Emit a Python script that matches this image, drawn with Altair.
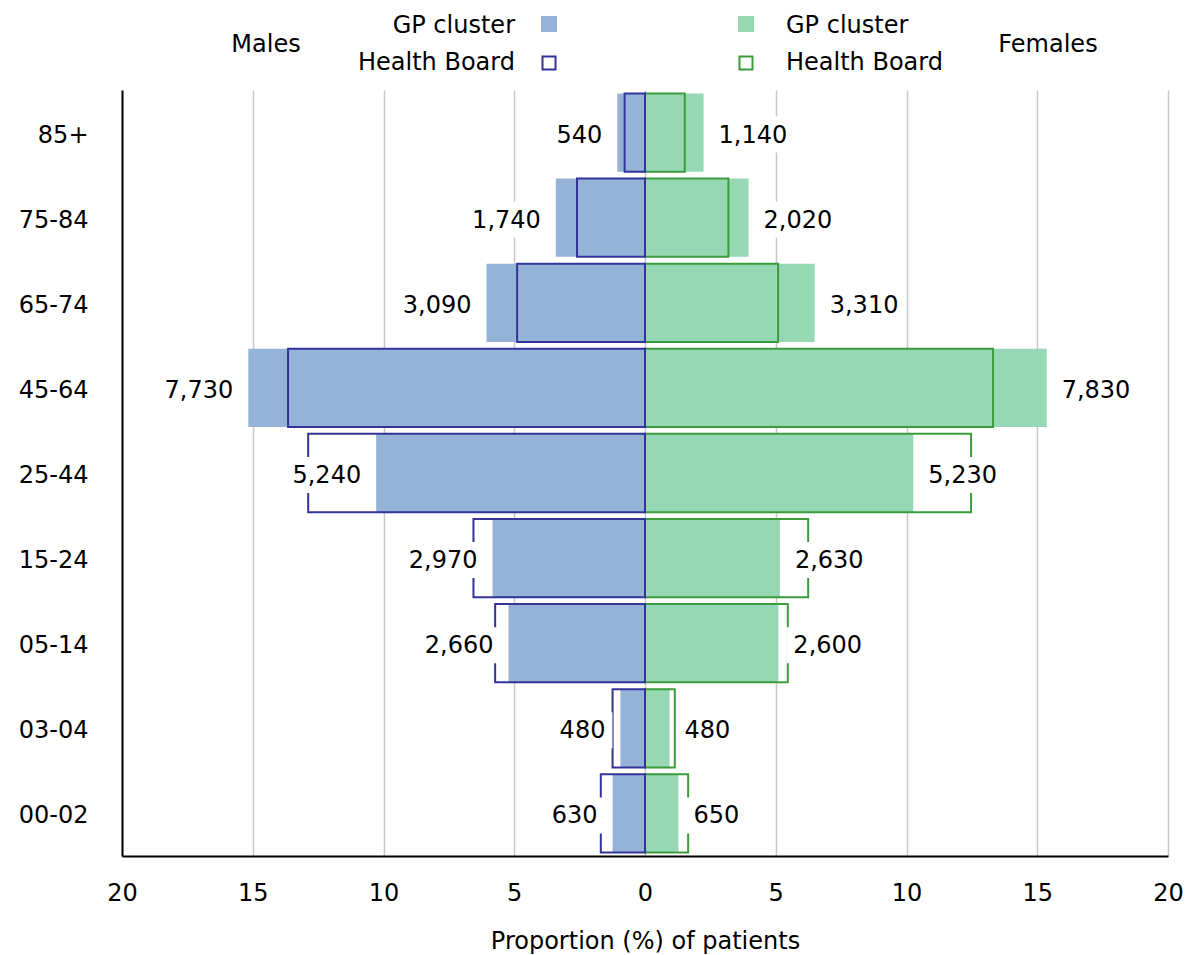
import altair as alt
import pandas as pd

# ---- data ----
age_groups = ["85+", "75-84", "65-74", "45-64", "25-44", "15-24", "05-14", "03-04", "00-02"]
male_gp = [1.06, 3.41, 6.06, 15.17, 10.28, 5.83, 5.22, 0.94, 1.24]
female_gp = [2.24, 3.96, 6.49, 15.36, 10.26, 5.16, 5.10, 0.94, 1.28]
male_hb = [0.78, 2.60, 4.89, 13.65, 12.88, 6.56, 5.73, 1.24, 1.69]
female_hb = [1.52, 3.19, 5.09, 13.31, 12.47, 6.24, 5.46, 1.14, 1.65]
male_n = [540, 1740, 3090, 7730, 5240, 2970, 2660, 480, 630]
female_n = [1140, 2020, 3310, 7830, 5230, 2630, 2600, 480, 650]
x_ticks = [-20, -15, -10, -5, 0, 5, 10, 15, 20]
legend_labels = ["GP cluster", "Health Board"]
side_labels = ["Males", "Females"]

rows = []
for i, a in enumerate(age_groups):
    rows.append(dict(age=a, sex="M", gp=-male_gp[i], hb=-male_hb[i], n=male_n[i]))
    rows.append(dict(age=a, sex="F", gp=female_gp[i], hb=female_hb[i], n=female_n[i]))
df = pd.DataFrame(rows)

FONT = "DejaVu Sans"
M_FILL = "#95b3d7"
M_LINE = "#33339a"
F_FILL = "#96d8b3"
F_LINE = "#3b9c3b"

xscale = alt.Scale(domain=[-20, 20], nice=False)
xaxis = alt.Axis(values=x_ticks, labelExpr="abs(datum.value)", title="Proportion (%) of patients",
                 labelFlush=False)
yenc = alt.Y("age:N", sort=age_groups,
             scale=alt.Scale(paddingInner=0.08, paddingOuter=0.04),
             axis=alt.Axis(title=None))


def X(field):
    return alt.X(field, type="quantitative", scale=xscale, axis=xaxis, stack=None)


base = alt.Chart(df)
IS_M = "datum.sex == 'M'"
IS_F = "datum.sex == 'F'"

gp_f = base.transform_filter(IS_F).mark_bar(color=F_FILL).encode(x=X("gp"), y=yenc)
gp_m = base.transform_filter(IS_M).mark_bar(color=M_FILL).encode(x=X("gp"), y=yenc)
hb_f = base.transform_filter(IS_F).mark_bar(filled=False, stroke=F_LINE, strokeWidth=2).encode(x=X("hb"), y=yenc)
hb_m = base.transform_filter(IS_M).mark_bar(filled=False, stroke=M_LINE, strokeWidth=2).encode(x=X("hb"), y=yenc)


# white boxes behind the count labels
def box(cond, off1, off2):
    return base.transform_filter(cond).mark_bar(
        color="white", size=36, xOffset=off1, x2Offset=off2, yOffset=2
    ).encode(x=X("gp"), x2=alt.X2("gp"), y=yenc)


box_m_long = box(IS_M + " && datum.n >= 1000", -8, -91)
box_m_short = box(IS_M + " && datum.n < 1000", -8, -68)
box_f_long = box(IS_F + " && datum.n >= 1000", 8, 91)
box_f_short = box(IS_F + " && datum.n < 1000", 8, 68)

txt_m = base.transform_filter(IS_M).mark_text(
    align="right", baseline="middle", dx=-15, dy=3, fontSize=24, font=FONT, color="black"
).encode(x=X("gp"), y=yenc, text=alt.Text("n:Q", format=","))
txt_f = base.transform_filter(IS_F).mark_text(
    align="left", baseline="middle", dx=15, dy=3, fontSize=24, font=FONT, color="black"
).encode(x=X("gp"), y=yenc, text=alt.Text("n:Q", format=","))

# ---- legend (drawn above plot area) ----
one = alt.Chart(pd.DataFrame({"k": [0]}))


def ltext(label, x, y, align):
    return one.mark_text(align=align, baseline="middle", fontSize=24, font=FONT, color="black").encode(
        x=alt.value(x), y=alt.value(y), text=alt.value(label))


legend = [
    ltext(legend_labels[0], 393, -64, "right"),
    ltext(legend_labels[1], 393, -27, "right"),
    one.mark_square(size=256, color=M_FILL, opacity=1).encode(x=alt.value(427), y=alt.value(-66)),
    one.mark_square(size=169, filled=False, stroke=M_LINE, strokeWidth=2, opacity=1).encode(
        x=alt.value(427), y=alt.value(-27)),
    one.mark_square(size=256, color=F_FILL, opacity=1).encode(x=alt.value(624), y=alt.value(-66)),
    one.mark_square(size=169, filled=False, stroke=F_LINE, strokeWidth=2, opacity=1).encode(
        x=alt.value(624), y=alt.value(-27)),
    ltext(legend_labels[0], 664, -64, "left"),
    ltext(legend_labels[1], 664, -27, "left"),
    ltext(side_labels[0], 144, -45, "center"),
    ltext(side_labels[1], 926, -45, "center"),
]

chart = alt.layer(
    gp_f, gp_m, hb_f, hb_m,
    box_m_long, box_m_short, box_f_long, box_f_short,
    txt_m, txt_f, *legend
).properties(
    width=1046, height=766,
    autosize=alt.AutoSizeParams(type="none"),
    padding={"left": 114, "top": 82, "right": 16, "bottom": 98},
).configure_view(stroke=None).configure_axis(
    labelFont=FONT, titleFont=FONT, labelFontSize=24, titleFontSize=24,
    labelColor="black", titleColor="black", titleFontWeight="normal",
    domainColor="black", domainWidth=2, ticks=False,
).configure_axisX(
    grid=True, gridColor="#c8c8c8", gridWidth=1.5, labelPadding=25, titlePadding=24,
).configure_axisY(
    grid=False, labelPadding=34, labelOffset=3,
)

chart.save("out.html", embed_options={"renderer": "svg", "actions": False})
